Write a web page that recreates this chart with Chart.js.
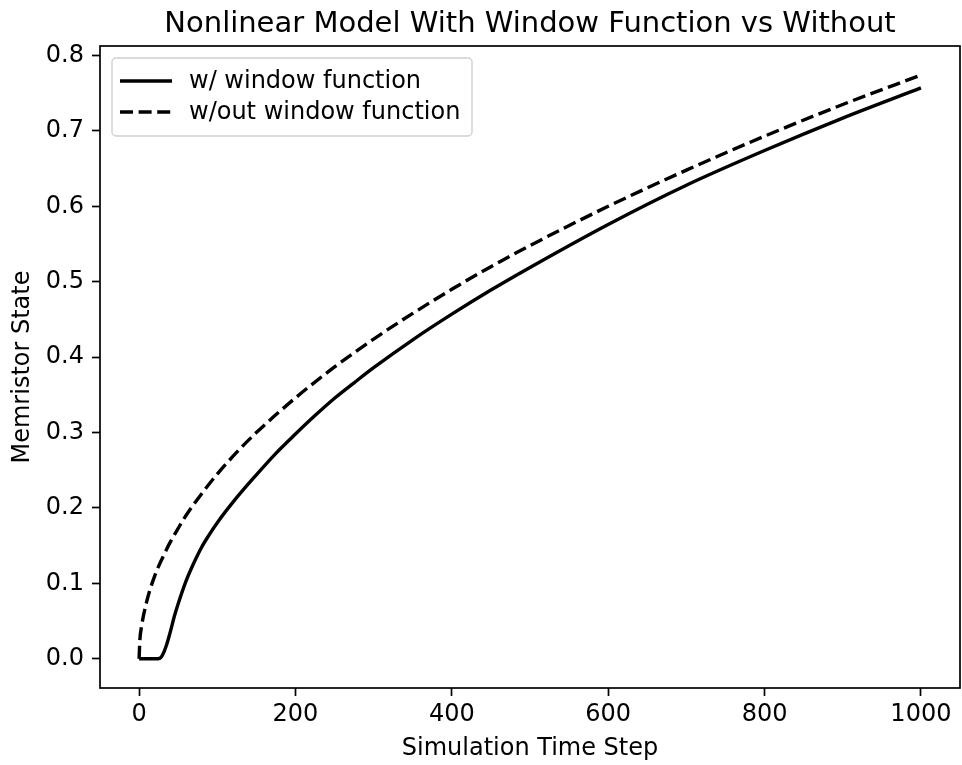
<!DOCTYPE html>
<html>
<head>
<meta charset="utf-8">
<script src="https://cdn.jsdelivr.net/npm/chart.js@4"></script>
<style>
  html, body { margin: 0; padding: 0; background: #fff; }
  #wrap { width: 962px; height: 765px; }
</style>
</head>
<body>
<div id="wrap"><canvas id="chart" width="962" height="765"></canvas></div>
<script>
const chartTitle = 'Nonlinear Model With Window Function vs Without';
const xLabel = 'Simulation Time Step';
const yLabel = 'Memristor State';

const withWindowX = [0, 10, 20, 27, 30, 35, 40, 45, 50, 60, 70, 80, 90, 100, 125, 150, 175, 200, 225, 250, 275, 300, 350, 400, 450, 500, 600, 700, 800, 900, 1000];
const withWindowY = [0, 0, 0, 0.001, 0.005, 0.018, 0.036, 0.056, 0.073, 0.103, 0.127, 0.148, 0.165, 0.1805, 0.214, 0.244, 0.2725, 0.298, 0.3225, 0.3455, 0.366, 0.386, 0.423, 0.457, 0.489, 0.519, 0.576, 0.628, 0.674, 0.717, 0.757];
const noWindowX = [0, 1, 3, 10, 20, 30, 40, 50, 60, 75, 100, 125, 150, 200, 250, 300, 350, 400, 450, 500, 600, 700, 800, 900, 1000];
const noWindowY = [0, 0.025, 0.042, 0.077, 0.110, 0.134, 0.155, 0.173, 0.190, 0.212, 0.245, 0.274, 0.300, 0.346, 0.387, 0.424, 0.458, 0.490, 0.520, 0.548, 0.600, 0.648, 0.693, 0.735, 0.774];

const xTicks = [0, 200, 400, 600, 800, 1000];
const yTicks = [0.0, 0.1, 0.2, 0.3, 0.4, 0.5, 0.6, 0.7, 0.8];

const FONT = 'DejaVu Sans';
const toPoints = (xs, ys) => xs.map((x, i) => ({ x: x, y: ys[i] }));

// title, frame and legend drawn on the canvas
const decor = {
  id: 'decor',
  afterDatasetsDraw(chart) {
    const { ctx, chartArea: a } = chart;
    ctx.save();
    // frame
    ctx.strokeStyle = '#000';
    ctx.lineWidth = 1.7;
    ctx.strokeRect(a.left, a.top, a.right - a.left, a.bottom - a.top);
    // title
    ctx.fillStyle = '#000';
    ctx.font = '29px "' + FONT + '"';
    ctx.textAlign = 'center';
    ctx.textBaseline = 'alphabetic';
    ctx.fillText(chartTitle, (a.left + a.right) / 2, 32);
    // legend
    const bx = 112, by = 58, bw = 360, bh = 78, r = 4;
    ctx.beginPath();
    ctx.moveTo(bx + r, by);
    ctx.arcTo(bx + bw, by, bx + bw, by + bh, r);
    ctx.arcTo(bx + bw, by + bh, bx, by + bh, r);
    ctx.arcTo(bx, by + bh, bx, by, r);
    ctx.arcTo(bx, by, bx + bw, by, r);
    ctx.closePath();
    ctx.fillStyle = 'rgba(255,255,255,0.8)';
    ctx.fill();
    ctx.strokeStyle = '#d0d0d0';
    ctx.lineWidth = 1.4;
    ctx.stroke();
    ctx.font = '24px "' + FONT + '"';
    ctx.textAlign = 'left';
    ctx.textBaseline = 'alphabetic';
    chart.data.datasets.forEach((ds, i) => {
      const y = 81 + i * 31;
      ctx.beginPath();
      ctx.setLineDash(ds.borderDash || []);
      ctx.strokeStyle = ds.borderColor;
      ctx.lineWidth = ds.borderWidth;
      ctx.moveTo(120, y);
      ctx.lineTo(172, y);
      ctx.stroke();
      ctx.setLineDash([]);
      ctx.fillStyle = '#000';
      ctx.fillText(ds.label, 189, y + 6.5);
    });
    ctx.restore();
  }
};

new Chart(document.getElementById('chart').getContext('2d'), {
  type: 'line',
  data: {
    datasets: [{
      label: 'w/ window function',
      data: toPoints(withWindowX, withWindowY),
      borderColor: '#000',
      borderWidth: 3.4,
      pointRadius: 0,
      cubicInterpolationMode: 'monotone',
      fill: false
    }, {
      label: 'w/out window function',
      data: toPoints(noWindowX, noWindowY),
      borderColor: '#000',
      borderWidth: 3.4,
      borderDash: [13, 5.6],
      pointRadius: 0,
      cubicInterpolationMode: 'monotone',
      fill: false
    }]
  },
  options: {
    responsive: false,
    animation: false,
    devicePixelRatio: 1,
    layout: { padding: { top: 46, right: 2, left: 0, bottom: 0 } },
    plugins: {
      legend: { display: false },
      tooltip: { enabled: false },
      title: { display: false }
    },
    scales: {
      x: {
        type: 'linear',
        min: -50,
        max: 1050,
        afterBuildTicks: s => { s.ticks = xTicks.map(v => ({ value: v })); },
        afterFit: s => { s.height = 77; },
        grid: { drawOnChartArea: false, tickLength: 8, color: '#000', tickWidth: 1.7 },
        border: { display: false },
        ticks: {
          color: '#000', padding: 4, maxRotation: 0,
          font: { family: FONT, size: 24 },
          callback: v => String(v)
        },
        title: {
          display: true, text: xLabel, color: '#000',
          font: { family: FONT, size: 24 },
          padding: { top: 0, bottom: 2 }
        }
      },
      y: {
        type: 'linear',
        min: -0.0387,
        max: 0.8126,
        afterBuildTicks: s => { s.ticks = yTicks.map(v => ({ value: v })); },
        afterFit: s => { s.width = 100; },
        grid: { drawOnChartArea: false, tickLength: 8, color: '#000', tickWidth: 1.7 },
        border: { display: false },
        ticks: {
          color: '#000', padding: 8,
          font: { family: FONT, size: 24 },
          callback: v => Number(v).toFixed(1)
        },
        title: {
          display: true, text: yLabel, color: '#000',
          font: { family: FONT, size: 24 },
          padding: { top: 8, bottom: 0 }
        }
      }
    }
  },
  plugins: [decor]
});
</script>
</body>
</html>
